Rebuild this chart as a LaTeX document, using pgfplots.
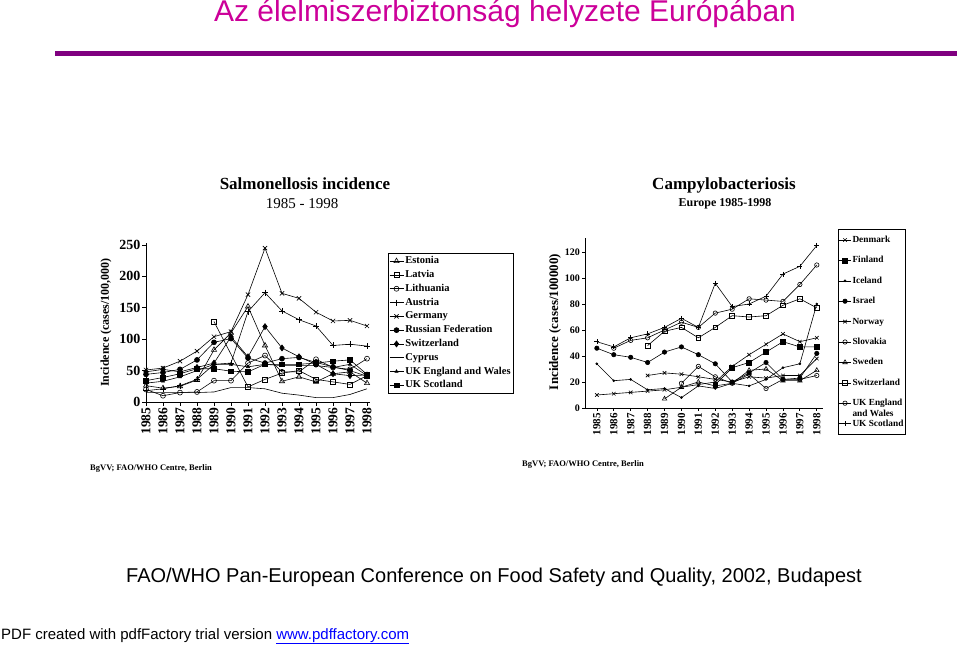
\documentclass[border=0pt]{standalone}
\usepackage{fontspec}
\setmainfont{Liberation Serif}
\newfontfamily\arial{Liberation Sans}
\usepackage{pgfplots}
\pgfplotsset{compat=1.18}
\definecolor{titlemag}{HTML}{CC0099}
\definecolor{rulepurple}{HTML}{800080}
\definecolor{linkblue}{HTML}{0000FF}
\newcommand{\fs}[1]{\fontsize{#1}{#1}\selectfont}
\begin{document}
\begin{tikzpicture}[x=1pt,y=1pt]
\path[use as bounding box] (0,0) rectangle (960,645);
% slide title
\node[anchor=base, font=\arial\fs{30}, text=titlemag, inner sep=0] at (505,623) {Az élelmiszerbiztonság helyzete Európában};
\fill[rulepurple] (55,589) rectangle (957,594);
% chart titles
\node[anchor=base, font=\bfseries\fs{17}, inner sep=0] at (305,455) {Salmonellosis incidence};
\node[anchor=base, font=\fs{15}, inner sep=0] at (302,436) {1985 - 1998};
\node[anchor=base, font=\bfseries\fs{17}, inner sep=0] at (724,455) {Campylobacteriosis};
\node[anchor=base, font=\bfseries\fs{12}, inner sep=0] at (725,438) {Europe 1985-1998};
% sources
\node[anchor=base west, font=\bfseries\fs{8.5}, inner sep=0] at (90,174) {BgVV; FAO/WHO Centre, Berlin};
\node[anchor=base west, font=\bfseries\fs{8.5}, inner sep=0] at (522,178) {BgVV; FAO/WHO Centre, Berlin};
% footer
\node[anchor=base, font=\arial\fs{20}, inner sep=0] at (494,63) {FAO/WHO Pan-European Conference on Food Safety and Quality, 2002, Budapest};
\node[anchor=base west, font=\arial\fs{15}, inner sep=0] at (1,6) {PDF created with pdfFactory trial version \textcolor{linkblue}{\underline{www.pdffactory.com}}};

% ---------------- Salmonellosis ----------------
\begin{axis}[
  at={(146pt,243pt)}, anchor=south west,
  scale only axis, width=224.4pt, height=158.9pt,
  xmin=1985, xmax=1998.2, ymin=0, ymax=253,
  axis lines=left, axis line style={-, line width=0.8pt},
  tick align=outside, major tick length=4pt,
  tick style={black, line width=0.7pt},
  xtick={1985,...,1998}, ytick={0,50,...,250},
  /pgf/number format/assume math mode=true,
  /pgf/number format/1000 sep={},
  yticklabel style={font=\bfseries\fs{14}, inner sep=1.5pt},
  xticklabel style={font=\bfseries\fs{13.5}, rotate=90, anchor=east, inner sep=1.5pt},
  ylabel={Incidence (cases/100,000)},
  ylabel style={font=\bfseries\fs{12}, at={(axis description cs:-0.178,0.5)}, anchor=center},
  clip=false,
  every axis plot/.append style={black, line width=0.6pt, mark size=2.5pt},
  legend style={at={(axis description cs:1.078,0.938)}, anchor=north west,
    draw=black, line width=0.6pt, fill=white,
    font=\bfseries\fs{10.5}, inner sep=1pt, row sep=0pt,
    nodes={inner xsep=1.5pt, inner ysep=2.2pt, text height=7.2pt, text depth=2.2pt},
    cells={anchor=west}},
  legend image code/.code={\draw[mark repeat=2, mark phase=2, #1] plot coordinates {(0pt,0pt) (7pt,0pt) (14pt,0pt)};},
]
\addplot[mark=triangle, mark options={fill=white, solid}, mark size=3pt] coordinates {(1985,26)(1986,22)(1987,25)(1988,35)(1989,83)(1990,110)(1991,152)(1992,90)(1993,33)(1994,40)(1995,32)(1996,45)(1997,48)(1998,30)};
\addlegendentry{Estonia}
\addplot[mark=square, mark options={fill=white}] coordinates {(1989,128)(1991,24)(1992,36)(1993,46)(1994,50)(1995,36)(1996,32)(1997,28)(1998,42)};
\addlegendentry{Latvia}
\addplot[mark=o, mark options={fill=white}] coordinates {(1985,20)(1986,10)(1987,15)(1988,16)(1989,34)(1990,34)(1991,62)(1992,74)(1993,48)(1994,48)(1995,68)(1996,55)(1997,52)(1998,69)};
\addlegendentry{Lithuania}
\addplot[mark=+, mark size=3pt] coordinates {(1985,18)(1986,21)(1987,26)(1988,36)(1989,60)(1990,62)(1991,144)(1992,174)(1993,145)(1994,131)(1995,121)(1996,90)(1997,92)(1998,89)};
\addlegendentry{Austria}
\addplot[mark=x, mark size=3pt] coordinates {(1985,51)(1986,54)(1987,65)(1988,81)(1989,104)(1990,112)(1991,171)(1992,245)(1993,173)(1994,165)(1995,143)(1996,129)(1997,130)(1998,121)};
\addlegendentry{Germany}
\addplot[mark=*] coordinates {(1985,44)(1986,47)(1987,52)(1988,67)(1989,95)(1990,101)(1991,70)(1992,62)(1993,69)(1994,71)(1995,63)(1996,56)(1997,50)(1998,41)};
\addlegendentry{Russian Federation}
\addplot[mark=diamond*, mark size=3pt] coordinates {(1985,48)(1986,52)(1987,48)(1988,55)(1989,62)(1990,104)(1991,72)(1992,120)(1993,86)(1994,72)(1995,60)(1996,45)(1997,42)(1998,43)};
\addlegendentry{Switzerland}
\addplot[no marks] coordinates {(1985,15)(1986,15)(1987,15)(1988,15)(1989,16)(1990,23)(1991,23)(1992,21)(1993,14)(1994,11)(1995,7)(1996,7)(1997,12)(1998,21)};
\addlegendentry{Cyprus}
\addplot[mark=triangle*, mark size=1.8pt] coordinates {(1985,30)(1986,33)(1987,40)(1988,50)(1989,60)(1990,60)(1991,56)(1992,60)(1993,58)(1994,58)(1995,58)(1996,55)(1997,60)(1998,42)};
\addlegendentry{UK England and Wales}
\addplot[mark=square*, mark size=2.3pt] coordinates {(1985,34)(1986,39)(1987,45)(1988,53)(1989,53)(1990,49)(1991,48)(1992,60)(1993,60)(1994,60)(1995,62)(1996,65)(1997,67)(1998,44)};
\addlegendentry{UK Scotland}
\end{axis}

% ---------------- Campylobacteriosis ----------------
\begin{axis}[
  at={(585pt,237pt)}, anchor=south west,
  scale only axis, width=237.7pt, height=170.3pt,
  xmin=1984.3, xmax=1998.35, ymin=0, ymax=131,
  axis lines=left, axis line style={-, line width=0.8pt},
  tick align=outside, major tick length=3pt,
  tick style={black, line width=0.7pt},
  xtick={1985,...,1998}, ytick={0,20,...,120},
  /pgf/number format/assume math mode=true,
  /pgf/number format/1000 sep={},
  yticklabel style={font=\bfseries\fs{10}, inner sep=2pt},
  xticklabel style={font=\bfseries\fs{11}, rotate=90, anchor=east, inner sep=2pt},
  ylabel={Incidence (cases/100000)},
  ylabel style={font=\bfseries\fs{13}, at={(axis description cs:-0.126,0.505)}, anchor=center},
  clip=false,
  every axis plot/.append style={black, line width=0.6pt, mark size=2.2pt},
  legend style={at={(axis description cs:1.064,1.051)}, anchor=north west,
    draw=black, line width=0.6pt, fill=white,
    font=\bfseries\fs{9.3}, inner sep=0.5pt, row sep=0pt,
    nodes={inner xsep=1.2pt, inner ysep=5.8pt, text height=6.8pt, text depth=2pt},
    cells={anchor=west}},
  legend image code/.code={\draw[mark repeat=2, mark phase=2, #1] plot coordinates {(0pt,0pt) (6pt,0pt) (12pt,0pt)};},
]
\addplot[mark=x, mark size=2.5pt] coordinates {(1985,10)(1986,11)(1987,12)(1988,13)(1989,14)(1990,16)(1991,18)(1992,20)(1993,32)(1994,41)(1995,49)(1996,57)(1997,51)(1998,54)};
\addlegendentry{Denmark}
\addplot[mark=square*, mark size=2.4pt] coordinates {(1992,18)(1993,31)(1994,35)(1995,43)(1996,51)(1997,47)(1998,47)};
\addlegendentry{Finland}
\addplot[mark=*, mark size=1pt] coordinates {(1985,34)(1986,21)(1987,22)(1988,14)(1989,15)(1990,8)(1991,17)(1992,15)(1993,19)(1994,17)(1995,22)(1996,31)(1997,34)(1998,80)};
\addlegendentry{Iceland}
\addplot[mark=*] coordinates {(1985,46)(1986,41)(1987,39)(1988,35)(1989,43)(1990,47)(1991,41)(1992,34)(1993,20)(1994,27)(1995,35)(1996,22)(1997,23)(1998,42)};
\addlegendentry{Israel}
\addplot[mark=x, mark size=2.5pt] coordinates {(1988,25)(1989,27)(1990,26)(1991,24)(1992,22)(1993,20)(1994,24)(1995,23)(1996,25)(1997,25)(1998,38)};
\addlegendentry{Norway}
\addplot[mark=o, mark options={fill=white}] coordinates {(1990,19)(1991,32)(1992,24)(1993,19)(1994,26)(1995,15)(1996,22)(1997,22)(1998,25)};
\addlegendentry{Slovakia}
\addplot[mark=triangle, mark options={fill=white}, mark size=2.6pt] coordinates {(1989,7)(1990,16)(1991,20)(1992,17)(1993,19)(1994,29)(1995,30)(1996,21)(1997,21)(1998,29)};
\addlegendentry{Sweden}
\addplot[mark=square, mark options={fill=white}, mark size=2.4pt] coordinates {(1988,48)(1989,59)(1990,62)(1991,54)(1992,62)(1993,71)(1994,70)(1995,71)(1996,79)(1997,84)(1998,77)};
\addlegendentry{Switzerland}
\addplot[mark=o, mark options={fill=white}] coordinates {(1986,46)(1987,52)(1988,54)(1989,60)(1990,66)(1991,62)(1992,73)(1993,76)(1994,84)(1995,83)(1996,82)(1997,95)(1998,110)};
\addlegendentry{\rlap{\smash{\raisebox{-10.5pt}{and Wales}}}UK England}
\addplot[mark=+, mark size=2.5pt] coordinates {(1985,51)(1986,47)(1987,54)(1988,57)(1989,62)(1990,69)(1991,62)(1992,96)(1993,78)(1994,80)(1995,86)(1996,103)(1997,109)(1998,125)};
\addlegendentry{UK Scotland}
\end{axis}
\end{tikzpicture}
\end{document}
